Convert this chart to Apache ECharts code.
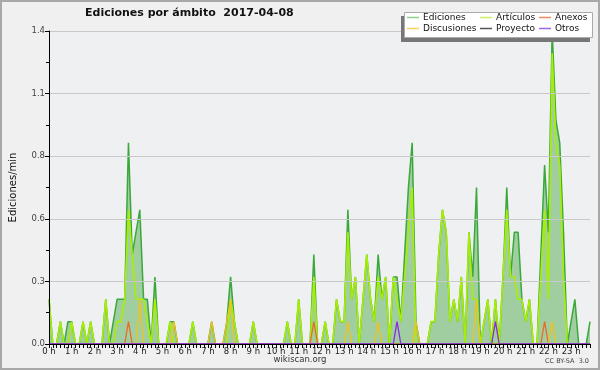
<!DOCTYPE html>
<html>
<head>
<meta charset="utf-8">
<script src="https://cdn.jsdelivr.net/npm/echarts@6/dist/echarts.min.js"></script>
<style>
html,body{margin:0;padding:0;background:#f0f0f0;}
#c{width:600px;height:370px;}
</style>
</head>
<body>
<div id="c"></div>
<script>
// 10-minute bins, 6 per hour (one row per hour)
const hourLabels = ['0 h','1 h','2 h','3 h','4 h','5 h','6 h','7 h','8 h','9 h','10 h','11 h',
  '12 h','13 h','14 h','15 h','16 h','17 h','18 h','19 h','20 h','21 h','22 h','23 h'];
const minutes = ['00','10','20','30','40','50'];

const ediciones = [
  0.2,0,0,0.1,0,0.1,
  0.1,0,0,0.1,0,0.1,
  0,0,0,0.2,0,0.1,
  0.2,0.2,0.2,0.9,0.4,0.5,
  0.6,0.2,0.2,0,0.3,0,
  0,0,0.1,0.1,0,0,
  0,0,0.1,0,0,0,
  0,0.1,0,0,0,0.1,
  0.3,0.1,0,0,0,0,
  0.1,0,0,0,0,0,
  0,0,0,0.1,0,0,
  0.2,0,0,0,0.4,0,
  0,0.1,0,0,0.2,0.1,
  0.1,0.6,0.2,0.3,0,0.2,
  0.4,0.2,0.1,0.4,0.2,0.3,
  0,0.3,0.3,0.1,0.4,0.7,
  0.9,0.1,0,0,0,0.1,
  0.1,0.4,0.6,0.5,0.1,0.2,
  0.1,0.3,0,0.5,0.3,0.7,
  0,0.1,0.2,0,0.2,0,
  0.3,0.7,0.3,0.5,0.5,0.2,
  0.1,0.2,0,0,0.4,0.8,
  0.5,1.4,1.0,0.9,0.5,0,
  0.1,0.2,0,0,0,0.1
];
const articulos = [
  0.2,0,0,0.1,0,0,
  0.1,0,0,0.1,0,0.1,
  0,0,0,0.2,0,0,
  0.1,0.1,0.2,0.6,0.4,0.2,
  0.2,0.2,0.1,0,0.2,0,
  0,0,0.1,0,0,0,
  0,0,0.1,0,0,0,
  0,0,0,0,0,0,
  0.2,0.1,0,0,0,0,
  0.1,0,0,0,0,0,
  0,0,0,0.1,0,0,
  0.2,0,0,0,0.3,0,
  0,0.1,0,0,0.2,0.1,
  0.1,0.5,0.2,0.3,0,0.2,
  0.4,0.2,0.1,0.3,0.2,0.3,
  0,0.3,0.2,0.1,0.3,0.5,
  0.7,0,0,0,0,0.1,
  0.1,0.4,0.6,0.5,0.1,0.2,
  0.1,0.3,0,0.5,0.2,0.2,
  0,0.1,0.2,0,0.2,0,
  0.3,0.6,0.3,0.3,0.2,0.2,
  0.1,0.2,0,0,0.3,0.6,
  0.2,1.3,0.9,0.8,0.3,0,
  0,0,0,0,0,0
];
const anexos = [
  0,0,0,0,0,0, 0,0,0,0,0,0, 0,0,0,0,0,0, 0,0,0,0.1,0,0,
  0,0,0,0,0,0, 0,0,0,0,0,0, 0,0,0,0,0,0, 0,0,0,0,0,0,
  0,0,0,0,0,0, 0,0,0,0,0,0, 0,0,0,0,0,0, 0,0,0,0,0.1,0,
  0,0,0,0,0,0, 0,0,0,0,0,0, 0,0,0,0,0,0, 0,0,0,0,0,0,
  0,0,0,0,0,0, 0,0,0,0,0,0, 0,0,0,0,0,0, 0,0,0,0,0,0,
  0,0,0,0,0,0, 0,0,0,0,0,0.1, 0,0,0,0,0,0, 0,0,0,0,0,0
];
const discusiones = [
  0,0,0,0,0,0, 0,0,0,0,0,0, 0,0,0,0,0,0, 0,0,0,0,0,0,
  0.2,0,0,0,0,0, 0,0,0,0.1,0,0, 0,0,0,0,0,0, 0,0.1,0,0,0,0.1,
  0.2,0,0,0,0,0, 0,0,0,0,0,0, 0,0,0,0,0,0, 0,0,0,0,0,0,
  0,0,0,0,0,0, 0,0.1,0,0,0,0, 0,0,0,0.1,0,0, 0,0,0,0,0,0,
  0,0.1,0,0,0,0, 0,0,0,0,0,0, 0,0,0,0,0,0.2, 0,0,0,0,0,0,
  0,0,0,0,0,0, 0,0,0,0,0,0, 0,0.1,0,0,0,0, 0,0,0,0,0,0
];
const proyecto = new Array(144).fill(0);
const otros = [
  0,0,0,0,0,0, 0,0,0,0,0,0, 0,0,0,0,0,0, 0,0,0,0,0,0,
  0,0,0,0,0,0, 0,0,0,0,0,0, 0,0,0,0,0,0, 0,0,0,0,0,0,
  0,0,0,0,0,0, 0,0,0,0,0,0, 0,0,0,0,0,0, 0,0,0,0,0,0,
  0,0,0,0,0,0, 0,0,0,0,0,0, 0,0,0,0,0,0, 0,0,0.1,0,0,0,
  0,0,0,0,0,0, 0,0,0,0,0,0, 0,0,0,0,0,0, 0,0,0,0,0.1,0,
  0,0,0,0,0,0, 0,0,0,0,0,0, 0,0,0,0,0,0, 0,0,0,0,0,0
];

const categories = [];
hourLabels.forEach(h => minutes.forEach(m => categories.push(h.replace(' h','') + ':' + m)));

const FONT = 'DejaVu Sans';
const chart = echarts.init(document.getElementById('c'), null, {renderer:'canvas'});

function mk(name, data, lineColor, legendColor, width, extra) {
  return Object.assign({
    name: name, type: 'line', data: data, showSymbol: false, symbol: 'none',
    animation: false, itemStyle: {color: legendColor},
    lineStyle: {color: lineColor, width: width}
  }, extra || {});
}

const legendBase = {
  orient: 'vertical', top: 13, itemGap: 2, itemWidth: 12, itemHeight: 1.5, icon: 'rect',
  textStyle: {fontFamily: FONT, fontSize: 9, color: '#111', padding: [0,0,0,-1]},
  padding: 0, selectedMode: false
};

chart.setOption({
  backgroundColor: '#f0f0f0',
  animation: false,
  title: {
    text: 'Ediciones por ámbito  2017-04-08', left: 85, top: 8, padding: 0,
    textStyle: {fontFamily: FONT, fontSize: 11, fontWeight: 'bold', color: '#111'}
  },
  graphic: [
    {type:'rect', z:-1, shape:{x:1, y:1, width:598, height:368}, style:{fill:'none', stroke:'#a8a8a8', lineWidth:2}},
    {type:'rect', z:50, shape:{x:401, y:16, width:189, height:26}, style:{fill:'#777'}},
    {type:'rect', z:51, shape:{x:404.5, y:12.5, width:188, height:25}, style:{fill:'#fff', stroke:'#aaa', lineWidth:1}},
    {type:'text', z:5, left:'center', top:355, style:{text:'wikiscan.org', fontFamily:FONT, fontSize:8.5, fill:'#333'}},
    {type:'text', z:5, right:11, top:358, style:{text:'CC BY-SA  3.0', fontFamily:FONT, fontSize:6.5, fill:'#444'}}
  ],
  legend: [
    Object.assign({}, legendBase, {left: 407, data: ['Ediciones','Discusiones'], z: 60}),
    Object.assign({}, legendBase, {left: 480, data: ['Artículos','Proyecto'], z: 60}),
    Object.assign({}, legendBase, {left: 539, data: ['Anexos','Otros'], z: 60})
  ],
  grid: {left: 46, right: 10, top: 31, bottom: 26, show: true, backgroundColor: '#eef0f2', borderWidth: 0},
  xAxis: {
    type: 'category', data: categories, boundaryGap: false, z: 10,
    axisLine: {lineStyle: {color: '#000', width: 1}},
    axisTick: {interval: 0, length: 4, lineStyle: {color: '#000'}},
    axisLabel: {
      interval: (i) => i % 6 === 0,
      formatter: (v, i) => hourLabels[Math.floor(i / 6)],
      fontFamily: FONT, fontSize: 8.5, color: '#222', margin: 3
    },
    splitLine: {show: false}
  },
  yAxis: {
    type: 'value', min: 0, max: 1.4, interval: 0.28, z: 10,
    name: 'Ediciones/min', nameLocation: 'middle', nameGap: 31, nameRotate: 90,
    nameTextStyle: {fontFamily: FONT, fontSize: 10, color: '#111'},
    axisLine: {show: true, lineStyle: {color: '#000'}},
    axisTick: {show: true, length: 4, lineStyle: {color: '#000'}},
    minorTick: {show: true, splitNumber: 2, length: 3, lineStyle: {color: '#000'}},
    axisLabel: {formatter: (v) => v.toFixed(1), fontFamily: FONT, fontSize: 8.5, color: '#444', margin: 4},
    splitLine: {show: true, lineStyle: {color: '#c8c8c8', width: 1}}
  },
  series: [
    mk('Ediciones', ediciones, '#3aa83a', '#8fd08f', 1.5, {areaStyle: {color: '#a0cea0', opacity: 1}}),
    mk('Artículos', articulos, '#a8ee04', '#cdf06a', 1.6),
    mk('Anexos', anexos, '#ee6a22', '#f28a5a', 1.3),
    mk('Discusiones', discusiones, '#f2c21c', '#f8d060', 1.3),
    mk('Proyecto', proyecto, '#555555', '#555555', 1.2),
    mk('Otros', otros, '#8a2be2', '#a066f0', 1.3)
  ]
});
</script>
</body>
</html>
